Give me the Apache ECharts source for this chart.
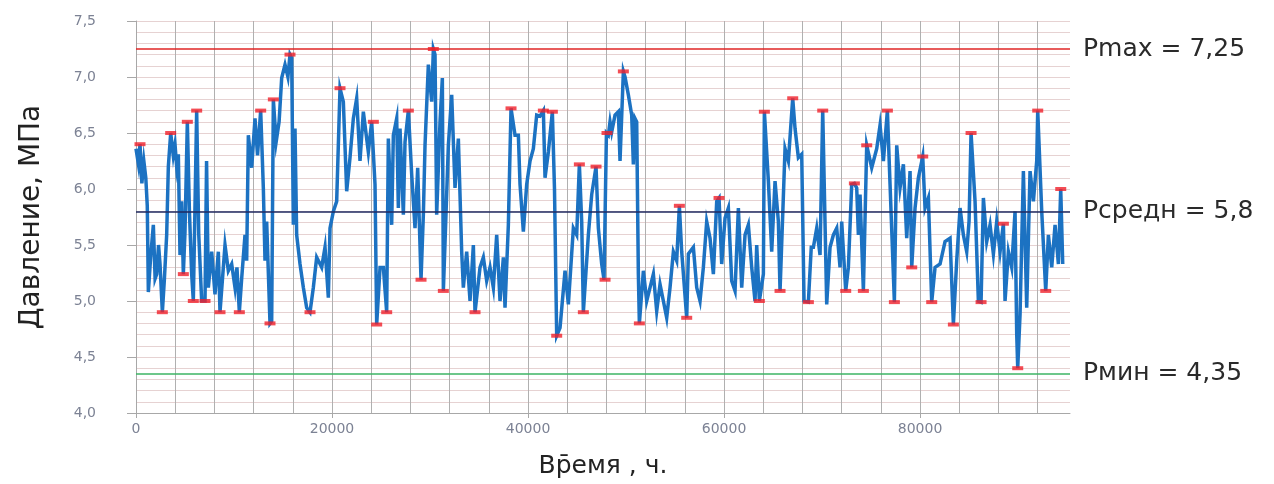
<!DOCTYPE html>
<html>
<head>
<meta charset="utf-8">
<script src="https://cdn.jsdelivr.net/npm/echarts@6/dist/echarts.min.js"></script>
<style>html,body{margin:0;padding:0;background:#fff;}#c{width:1274px;height:484px;}</style>
</head>
<body>
<div id="c"></div>
<script>
// Time, hours
const timeH = [0,250,408,600,800,1000,1150,1260,1500,1770,1950,2110,2300,2450,2690,2900,3130,3300,3540,3800,3980,4150,4320,4490,4660,4830,5000,5238,5450,5680,5850,6190,6400,6700,7041,7200,7381,7721,8061,8401,8571,9082,9422,9762,10102,10300,10544,10782,11122,11293,11463,11803,12143,12400,12721,12993,13163,13333,13673,13844,14014,14300,14600,14864,15204,15500,15714,15884,16054,16224,16394,16735,17075,17415,17755,18095,18435,18946,19286,19626,19796,20136,20476,20816,21156,21497,21837,22177,22517,22857,23197,23367,23707,24048,24218,24388,24558,24900,25238,25578,25748,26088,26259,26599,26769,26939,27279,27449,27789,28129,28469,28742,29082,29320,29490,29830,30170,30340,30510,30680,31020,31259,31361,31871,32211,32551,32891,33231,33401,33741,34082,34422,34592,35102,35442,35782,36122,36462,36803,37143,37483,37653,37993,38265,38673,39014,39184,39524,39864,40204,40544,40884,41224,41565,41735,42075,42483,42700,42925,43265,43776,44116,44626,44966,45238,45476,45646,46156,46497,46939,47177,47517,47755,48000,48197,48367,48537,48877,49217,49388,49728,49898,50238,50578,50748,50918,51088,51258,51361,51769,52109,52449,52789,53129,53469,53810,54150,54490,54830,55170,55442,55680,56191,56361,56871,57211,57551,57891,58231,58571,58912,59252,59490,59762,60102,60442,60782,61122,61463,61803,62143,62483,62823,63163,63333,63605,64014,64116,64524,64864,65204,65544,65714,66224,66565,67007,67245,67585,67925,68163,68605,68900,69116,69456,69796,70068,70476,70816,71156,71497,71837,72006,72415,72687,73027,73299,73537,73707,73877,74218,74558,75068,75578,75918,76259,76667,76939,77381,77619,77959,78300,78640,78980,79150,79490,79830,80272,80510,80850,81190,81531,82041,82551,83061,83401,83741,84082,84422,84762,85000,85204,85612,85952,86225,86463,86803,87143,87483,87823,88163,88503,88673,89014,89354,89694,89864,89966,90204,90544,90884,91224,91565,91905,92007,92415,92823,93095,93435,93776,94116,94354,94558];
// Pressure, MPa
const pressure = [6.36,6.22,6.40,6.05,6.25,6.10,5.85,5.08,5.40,5.68,5.20,5.24,5.50,5.33,4.90,5.20,5.59,6.20,6.50,6.30,6.40,6.20,6.31,5.41,5.89,5.24,5.62,6.60,5.80,5.24,5.00,6.70,5.60,5.00,5.00,6.25,5.12,5.44,5.06,5.44,4.90,5.50,5.27,5.33,5.12,5.30,4.90,5.20,5.59,5.36,6.48,6.19,6.63,6.30,6.70,6.01,5.36,5.71,4.80,4.82,6.80,6.42,6.60,6.99,7.11,7.00,7.20,7.17,5.68,6.54,5.59,5.33,5.12,4.94,4.90,5.12,5.39,5.30,5.48,5.03,5.65,5.80,5.89,6.90,6.78,5.98,6.28,6.63,6.81,6.25,6.69,6.69,6.33,6.60,6.60,6.04,4.79,5.30,5.30,4.90,6.45,5.68,6.48,6.63,5.83,6.54,5.77,6.42,6.70,6.13,5.65,6.19,5.19,5.77,6.39,7.11,6.78,7.25,7.20,5.77,6.60,6.99,5.09,6.39,6.84,6.01,6.45,5.44,5.12,5.44,5.00,5.50,4.90,5.30,5.39,5.18,5.30,5.12,5.59,5.00,5.39,4.94,5.68,6.72,6.48,6.48,6.04,5.62,6.04,6.25,6.36,6.66,6.65,6.70,6.10,6.33,6.69,6.00,4.69,4.76,5.27,4.97,5.65,5.59,6.22,5.71,4.90,5.59,5.95,6.20,5.65,5.33,5.19,6.50,6.48,6.60,6.51,6.66,6.69,6.25,7.05,7.00,6.84,6.66,6.22,6.63,6.60,5.24,4.80,5.27,5.00,5.12,5.24,4.91,5.15,5.00,4.85,5.12,5.44,5.36,5.85,5.44,4.85,5.42,5.48,5.12,5.00,5.30,5.71,5.56,5.24,5.89,5.92,5.33,5.74,5.83,5.18,5.09,5.83,5.12,5.59,5.68,5.30,5.00,5.50,5.00,5.24,6.69,6.07,5.44,6.07,5.71,5.09,6.36,6.25,6.81,6.54,6.28,6.31,5.00,4.99,5.48,5.48,5.65,5.41,6.70,4.97,5.48,5.59,5.65,5.30,5.71,5.09,5.30,6.04,6.05,6.01,5.59,5.95,5.09,6.39,6.19,6.36,6.57,6.25,6.70,6.04,4.99,6.39,6.01,6.22,5.56,6.16,5.30,5.83,6.10,6.29,5.83,5.92,4.99,5.30,5.33,5.53,5.56,4.79,5.36,5.83,5.59,5.44,5.71,6.50,5.89,5.00,4.99,5.92,5.53,5.68,5.42,5.71,5.44,5.69,5.00,5.44,5.30,5.80,4.70,4.40,4.88,6.16,4.94,6.16,5.89,6.25,6.70,5.80,5.09,5.59,5.30,5.68,5.33,6.00,5.33];
// Marked extremes
const peakTime = [408,2687,3537,4830,5238,6190,5850,7041,8571,10544,12721,13673,14014,15714,17755,20816,24218,24558,25578,27789,29082,30340,31361,34592,38265,41565,42483,42925,45238,45646,46939,47860,48060,49728,51361,55442,56191,59490,63605,64116,65714,67007,68605,70068,72415,73299,74218,74558,76667,77381,79150,80272,81190,83401,85204,86225,88503,89966,92007,92823,94354];
const peakVal = [6.40,4.90,6.50,5.24,6.60,6.70,5.00,5.00,4.90,4.90,6.70,4.80,6.80,7.20,4.90,6.90,6.60,4.79,4.90,6.70,5.19,7.25,5.09,4.90,6.72,6.70,6.69,4.69,6.22,4.90,6.20,5.19,6.50,7.05,4.80,5.85,4.85,5.92,5.00,6.69,5.09,6.81,4.99,6.70,5.09,6.05,5.09,6.39,6.70,4.99,5.30,6.29,4.99,4.79,6.50,4.99,5.69,4.40,6.70,5.09,6.00];
// Reference levels
const limitLabels = ['Pmax = 7,25', 'Рсредн = 5,8', 'Рмин = 4,35'];
const limitValues = [7.25, 5.8, 4.35];
const limitColors = ['#e02424', '#1f2a60', '#3cb464'];
const xTickValues = [0, 20000, 40000, 60000, 80000];
const xGridStep = 4000, xMax = 95300;
const yMin = 4.0, yMax = 7.5, yTickStep = 0.5, yGridStep = 0.1;

const series = timeH.map((t, i) => [t, pressure[i]]);
const peaks = peakTime.map((t, i) => [t, peakVal[i]]);

const chart = echarts.init(document.getElementById('c'), null, {renderer: 'canvas'});
const labelFont = 'DejaVu Sans';
chart.setOption({
  animation: false,
  backgroundColor: '#ffffff',
  grid: {left: 136, right: 204, top: 21, bottom: 70},
  xAxis: [{
    type: 'value', min: 0, max: xMax, interval: 20000,
    name: 'Вр\u0304емя , ч.', nameLocation: 'middle', nameGap: 41,
    nameTextStyle: {fontFamily: labelFont, fontSize: 25, color: '#222'},
    axisLine: {show: true, lineStyle: {color: '#a8a8a8'}},
    axisTick: {show: true, length: 5, customValues: xTickValues, lineStyle: {color: '#a8a8a8'}},
    axisLabel: {margin: 9, fontFamily: labelFont, fontSize: 14, color: '#7c8294',
      customValues: xTickValues, formatter: v => String(v)},
    splitLine: {show: false}
  }, {
    type: 'value', min: 0, max: xMax, interval: xGridStep, position: 'top',
    axisLine: {show: false}, axisTick: {show: false}, axisLabel: {show: false},
    splitLine: {show: true, showMaxLine: false, lineStyle: {color: '#b0b0b0', width: 1}}
  }],
  yAxis: [{
    type: 'value', min: yMin, max: yMax, interval: yTickStep,
    name: 'Давление, МПа', nameLocation: 'middle', nameGap: 90,
    nameTextStyle: {fontFamily: labelFont, fontSize: 28, color: '#222'},
    axisLine: {show: true, lineStyle: {color: '#a8a8a8'}},
    axisTick: {show: true, length: 9, lineStyle: {color: '#a8a8a8'}},
    axisLabel: {margin: 40, fontFamily: labelFont, fontSize: 14, color: '#7c8294',
      formatter: v => v.toFixed(1).replace('.', ',')},
    splitLine: {show: false}
  }, {
    type: 'value', min: yMin, max: yMax, interval: yGridStep, position: 'right',
    axisLine: {show: false}, axisTick: {show: false}, axisLabel: {show: false},
    splitLine: {show: true, lineStyle: {color: '#e6d2d2', width: 1}}
  }],
  series: [{
    type: 'line', data: series, xAxisIndex: 0, yAxisIndex: 0,
    showSymbol: false, symbol: 'none', silent: true,
    lineStyle: {color: '#1c72c2', width: 3.5, join: 'miter'},
    z: 3,
    markLine: {
      silent: true, symbol: ['none', 'none'],
      data: limitValues.map((v, i) => ({
        yAxis: v,
        lineStyle: {color: limitColors[i], width: 1.5, type: 'solid'},
        label: {show: true, position: 'end', distance: 13, formatter: limitLabels[i],
          fontFamily: labelFont, fontSize: 25, color: '#2a2a2a'}
      }))
    }
  }, {
    type: 'scatter', data: peaks, xAxisIndex: 0, yAxisIndex: 0,
    symbol: 'rect', symbolSize: [11, 4], silent: true,
    itemStyle: {color: '#f0202a'}, z: 5
  }]
});
</script>
</body>
</html>
